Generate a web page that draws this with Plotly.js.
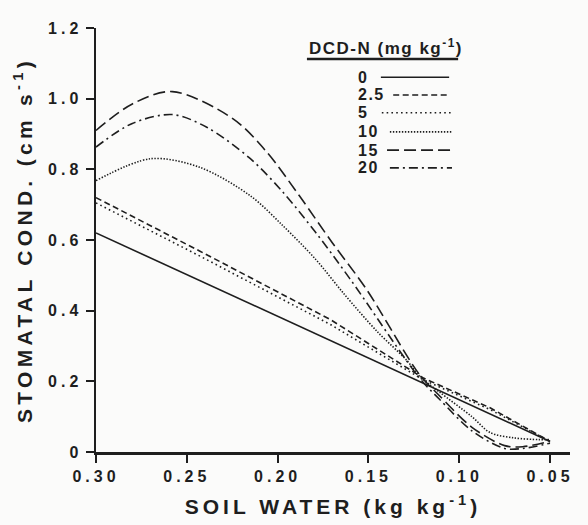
<!DOCTYPE html>
<html>
<head>
<meta charset="utf-8">
<script src="https://cdn.plot.ly/plotly-3.0.1.min.js"></script>
<style>
  html, body { margin: 0; padding: 0; background: #fbfbfa; }
  #chart { width: 588px; height: 525px; }
  .xtick text, .ytick text { letter-spacing: 4px; font-weight: bold !important; }
  .g-xtitle text { letter-spacing: 4px; font-weight: bold !important; }
  .g-ytitle text { letter-spacing: 4.3px; font-weight: bold !important; }
  .annotation-text { letter-spacing: 1.5px; font-weight: bold !important; }
</style>
</head>
<body>
<div id="chart"></div>
<script>
// ---- data ----
const soil0  = [0.30, 0.05];
const cond0  = [0.62, 0.03];

const soil25 = [0.30, 0.243, 0.171, 0.12, 0.083, 0.05];
const cond25 = [0.72, 0.569, 0.375, 0.21, 0.125, 0.03];

const soil5  = [0.30, 0.243, 0.171, 0.12, 0.083, 0.05];
const cond5  = [0.705, 0.555, 0.361, 0.205, 0.12, 0.03];

const soil10 = [0.30, 0.27, 0.243, 0.215, 0.197, 0.179, 0.164, 0.145, 0.129, 0.122, 0.111, 0.093, 0.083, 0.07, 0.056, 0.05];
const cond10 = [0.768, 0.83, 0.806, 0.725, 0.64, 0.545, 0.451, 0.34, 0.26, 0.215, 0.17, 0.10, 0.055, 0.04, 0.035, 0.035];

const soil15 = [0.30, 0.28, 0.258, 0.2245, 0.206, 0.188, 0.170, 0.151, 0.122, 0.111, 0.093, 0.075, 0.065, 0.05];
const cond15 = [0.91, 0.985, 1.02, 0.943, 0.849, 0.725, 0.593, 0.46, 0.22, 0.16, 0.07, 0.018, 0.015, 0.03];

const soil20 = [0.30, 0.28, 0.258, 0.239, 0.215, 0.197, 0.179, 0.160, 0.122, 0.111, 0.093, 0.075, 0.065, 0.05];
const cond20 = [0.863, 0.93, 0.955, 0.919, 0.83, 0.735, 0.621, 0.489, 0.21, 0.15, 0.06, 0.01, 0.01, 0.025];

const seriesNames = ['0', '2.5', '5', '10', '15', '20'];
const xTickVals = [0.30, 0.25, 0.20, 0.15, 0.10, 0.05];
const xTickText = ['0.30', '0.25', '0.20', '0.15', '0.10', '0.05'];
const yTickVals = [0, 0.2, 0.4, 0.6, 0.8, 1.0, 1.2];
const yTickText = ['0', '0.2', '0.4', '0.6', '0.8', '1.0', '1.2'];

// ---- styling ----
const ink = '#1e1e1e';
const FONT = 'Liberation Sans, Arial, sans-serif';
const dashes = ['solid', '6px,3.5px', '1.6px,3.2px', '1.4px,1.6px', '12px,5px', '9px,4px,2px,4px'];
const xs = [soil0, soil25, soil5, soil10, soil15, soil20];
const ys = [cond0, cond25, cond5, cond10, cond15, cond20];

const traces = xs.map((x, i) => ({
  x: x, y: ys[i], name: seriesNames[i], type: 'scatter', mode: 'lines',
  line: { color: ink, width: 1.6, dash: dashes[i], shape: i < 3 ? 'linear' : 'spline', smoothing: 0.9 },
  showlegend: false, hoverinfo: 'skip'
}));

// legend drawn in paper coordinates (label left, sample line right)
const legY = [0.884, 0.842, 0.800, 0.755, 0.712, 0.670];
const legX0 = [0.601, 0.627, 0.603, 0.620, 0.614, 0.620];
const legX1 = [0.745, 0.741, 0.751, 0.751, 0.747, 0.751];

const annotations = [{
  xref: 'paper', yref: 'paper', x: 0.445, y: 0.955, xanchor: 'left', yanchor: 'middle',
  text: 'DCD-N (mg kg<sup>-1</sup>)', showarrow: false,
  font: { family: FONT, size: 17, color: ink, weight: 'bold' }
}];
const shapes = [{
  type: 'line', xref: 'paper', yref: 'paper', x0: 0.445, x1: 0.764, y0: 0.927, y1: 0.927,
  line: { color: ink, width: 2.5 }
}];
seriesNames.forEach((n, i) => {
  annotations.push({
    xref: 'paper', yref: 'paper', x: 0.551, y: legY[i], xanchor: 'left', yanchor: 'middle',
    text: n, showarrow: false, borderpad: 0,
    font: { family: FONT, size: 16, color: ink, weight: 'bold' }
  });
  shapes.push({
    type: 'line', xref: 'paper', yref: 'paper', x0: legX0[i], x1: legX1[i], y0: legY[i], y1: legY[i],
    line: { color: ink, width: 1.6, dash: dashes[i] }
  });
});

const layout = {
  width: 588, height: 525,
  margin: { l: 96, r: 18, t: 28, b: 73 },
  paper_bgcolor: '#fbfbfa', plot_bgcolor: '#fbfbfa',
  font: { family: FONT, color: ink, weight: 'bold' },
  xaxis: {
    range: [0.30, 0.039], showgrid: false, zeroline: false,
    showline: true, linecolor: ink, linewidth: 2.5,
    ticks: 'outside', ticklen: 8, tickwidth: 2, tickcolor: ink,
    tickvals: xTickVals, ticktext: xTickText,
    tickfont: { family: FONT, size: 16, color: ink, weight: 'bold' },
    title: { text: 'SOIL WATER (kg kg<sup>-1</sup>)', standoff: 16,
             font: { family: FONT, size: 21, color: ink, weight: 'bold' } }
  },
  yaxis: {
    range: [0, 1.2], showgrid: false, zeroline: false,
    showline: true, linecolor: ink, linewidth: 2.5,
    ticks: 'outside', ticklen: 8, tickwidth: 2, tickcolor: ink,
    tickvals: yTickVals, ticktext: yTickText,
    tickfont: { family: FONT, size: 16, color: ink, weight: 'bold' },
    title: { text: 'STOMATAL COND. (cm s<sup>-1</sup>)', standoff: 10,
             font: { family: FONT, size: 21, color: ink, weight: 'bold' } }
  },
  annotations: annotations,
  shapes: shapes
};

Plotly.newPlot('chart', traces, layout, { staticPlot: true, displayModeBar: false });
</script>
</body>
</html>
